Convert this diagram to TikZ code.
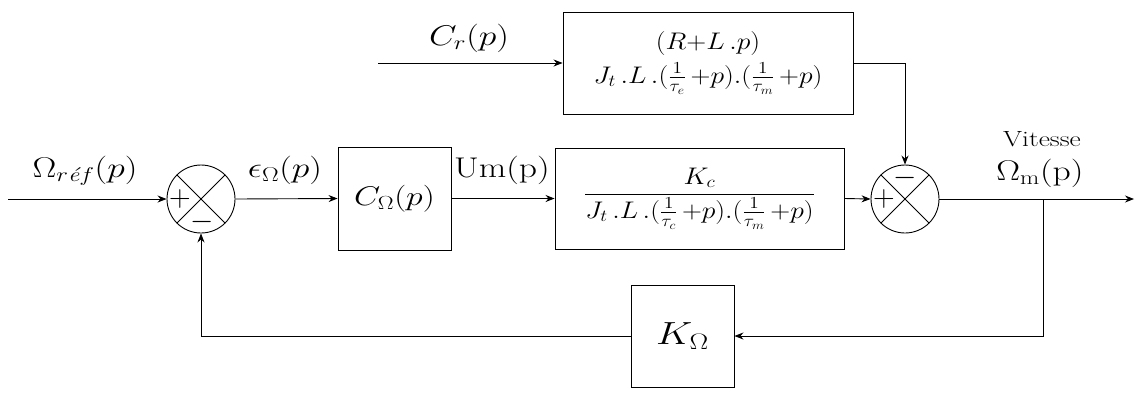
\RequirePackage{fix-cm}
\documentclass[tikz,border=0pt]{standalone}
\usepackage{amsmath}
\usetikzlibrary{arrows.meta}
\newcommand{\wdx}[1]{\scalebox{1.25}[1]{#1}}
\newcommand{\wdf}[1]{\scalebox{1.15}[1]{#1}}
\begin{document}
\begin{tikzpicture}[x=1pt,y=-1pt,
  line width=0.9pt,
  arr/.style={-{Stealth[length=9pt,width=7pt]}},
  blk/.style={draw,rectangle,inner sep=0pt},
  sumnode/.style={draw,circle,minimum size=68pt,inner sep=0pt},
  lbl/.style={anchor=base,inner sep=0pt,font=\fontsize{28.5}{32}\selectfont},
  frc/.style={font=\fontsize{24}{28}\selectfont},
  sgn/.style={inner sep=0pt,font=\fontsize{30}{32}\selectfont}]
\useasboundingbox (0,0) rectangle (1135,392);
% nodes
\node[sumnode] (s1) at (201,199) {};
\draw (s1.45) -- (s1.225) (s1.135) -- (s1.315);
\node[sgn] (p1) at (180,199) {$+$};
\node[sgn] (m1) at (202,222) {$-$};
\node[blk,minimum width=113pt,minimum height=103pt] (cbox) at (394.5,198.5)
  {\fontsize{27}{30}\selectfont\wdx{$C_{\Omega}(p)$}};
\node[blk,minimum width=289pt,minimum height=101pt,frc] (gbox) at (699.5,198.5)
  {\wdf{$\displaystyle\frac{K_c}{J_t\,.L\,.(\frac{1}{\tau_c}\,{+}p).(\frac{1}{\tau_m}\,{+}p)}$}};
\node[blk,minimum width=290pt,minimum height=102pt,frc] (tbox) at (708,63)
  {\wdf{$\displaystyle\genfrac{}{}{0pt}{}{(R{+}L\,.p)}{J_t\,.L\,.(\frac{1}{\tau_e}\,{+}p).(\frac{1}{\tau_m}\,{+}p)}$}};
\node[sumnode] (s2) at (905,199) {};
\draw (s2.45) -- (s2.225) (s2.135) -- (s2.315);
\node[sgn] (p2) at (884,199) {$+$};
\node[sgn] (m2) at (905,178) {$-$};
\node[blk,minimum width=103pt,minimum height=102pt] (kbox) at (682.5,336)
  {\fontsize{32}{36}\selectfont\wdx{$K_{\Omega}$}};
% free ends
\coordinate (in) at (8,199);
\coordinate (out) at (1134,199);
\coordinate (br) at (1043,199);
\coordinate (crin) at (378,63);
% labels
\node[lbl] (lref) at (85,177) {\wdx{$\Omega_{r\text{\itshape é}f}(p)$}};
\node[lbl] (leps) at (285,177) {\wdx{$\epsilon_{\Omega}(p)$}};
\node[lbl] (lum) at (502,177) {\wdx{$\mathrm{Um(p)}$}};
\node[lbl] (lcr) at (469,45) {\wdx{$C_r(p)$}};
\node[anchor=base,inner sep=0pt,font=\fontsize{22}{24}\selectfont] (lvit) at (1042,146) {\wdx{Vitesse}};
\node[lbl] (lom) at (1040,180) {\wdx{$\Omega_{\mathrm{m}}(\mathrm{p})$}};
% connectors
\draw[arr] (in) -- (s1.west);
\draw[arr] (s1.east) -- (cbox.west);
\draw[arr] (cbox.east) -- (gbox.west);
\draw[arr] (gbox.east) -- (s2.west);
\draw[arr] (s2.east) -- (out);
\draw[arr] (crin) -- (tbox.west);
\draw[arr] (tbox.east) -| (s2.north);
\draw[arr] (br) |- (kbox.east);
\draw[arr] (kbox.west) -| (s1.south);
\end{tikzpicture}
\end{document}
